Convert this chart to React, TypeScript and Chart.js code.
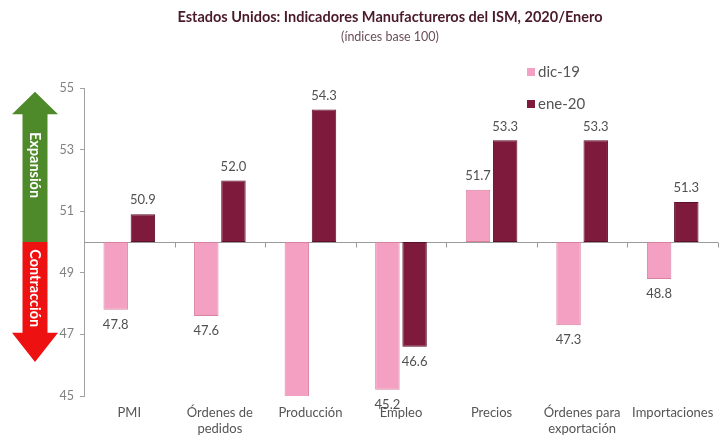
import React, { useEffect, useRef } from "react";
import { Chart, registerables } from "chart.js";

Chart.register(...registerables);

const categories: (string | string[])[] = [
  "PMI",
  ["Órdenes de", "pedidos"],
  "Producción",
  "Empleo",
  "Precios",
  ["Órdenes para", "exportación"],
  "Importaciones",
];
const seriesNames = ["dic-19", "ene-20"];
const dic19 = [47.8, 47.6, 43.2, 45.2, 51.7, 47.3, 48.8];
const ene20 = [50.9, 52.0, 54.3, 46.6, 53.3, 53.3, 51.3];
const baseline = 50;
const yMin = 45;
const yMax = 55;
const yStep = 2;
const titleText = "Estados Unidos: Indicadores Manufactureros del ISM, 2020/Enero";
const subtitleText = "(índices base 100)";
const arrowUpText = "Expansión";
const arrowDownText = "Contracción";

const PINK = "#F4A0C2";
const PINK_BORDER = "#D9829F";
const MAROON = "#7E1A3C";
const MAROON_BORDER = "#5E0F2A";
const FONT = "Lato, 'Open Sans', sans-serif";

export default function App() {
  const ref = useRef<HTMLCanvasElement | null>(null);

  useEffect(() => {
    document.body.style.margin = "0";
    const canvas = ref.current;
    if (!canvas) return;

    const custom = {
      id: "custom",
      beforeDatasetsDraw(chart: any) {
        const { ctx, chartArea, scales } = chart;
        const y = scales.y;
        const x = scales.x;
        const by = Math.round(y.getPixelForValue(baseline)) + 0.5;
        ctx.save();
        ctx.strokeStyle = "#9a9a9a";
        ctx.lineWidth = 1;
        ctx.beginPath();
        ctx.moveTo(chartArea.left, by);
        ctx.lineTo(chartArea.right, by);
        const n = categories.length;
        for (let i = 1; i <= n; i++) {
          const px = Math.round(x.getPixelForValue(i - 0.5)) + 0.5;
          ctx.moveTo(px, by);
          ctx.lineTo(px, by + 5);
        }
        ctx.stroke();
        ctx.restore();
      },
      afterDraw(chart: any) {
        const { ctx, scales } = chart;
        const y = scales.y;
        ctx.save();
        // titles
        ctx.textAlign = "center";
        ctx.textBaseline = "middle";
        ctx.fillStyle = "#4B1A2A";
        ctx.font = `bold 14.5px ${FONT}`;
        ctx.fillText(titleText, 390, 17);
        ctx.fillStyle = "#6a5058";
        ctx.font = `12.5px ${FONT}`;
        ctx.fillText(subtitleText, 390, 37);

        // value labels
        ctx.font = `13px ${FONT}`;
        ctx.fillStyle = "#505050";
        const sets = [dic19, ene20];
        sets.forEach((vals, di) => {
          const meta = chart.getDatasetMeta(di);
          meta.data.forEach((el: any, i: number) => {
            const v = vals[i];
            if (v < yMin || v > yMax) return;
            const py = y.getPixelForValue(v);
            const ly = v >= baseline ? py - 14 : py + 15;
            ctx.fillText(v.toFixed(1), el.x, ly);
          });
        });

        // legend
        const lx = 527;
        const legendY = [72, 104];
        ctx.textAlign = "left";
        ctx.font = `15px ${FONT}`;
        seriesNames.forEach((name, i) => {
          ctx.fillStyle = i === 0 ? PINK : MAROON;
          ctx.fillRect(lx, legendY[i] - 4, 8, 8);
          ctx.fillStyle = "#555555";
          ctx.fillText(name, lx + 11, legendY[i]);
        });

        // arrow
        const cx = 35;
        const shaftHalf = 12.5;
        const headHalf = 23;
        const topTip = y.getPixelForValue(54.88);
        const topBase = y.getPixelForValue(54.15);
        const mid = y.getPixelForValue(baseline);
        const botBase = y.getPixelForValue(47.05);
        const botTip = y.getPixelForValue(46.1);
        ctx.fillStyle = "#4E8A2A";
        ctx.beginPath();
        ctx.moveTo(cx, topTip);
        ctx.lineTo(cx + headHalf, topBase);
        ctx.lineTo(cx + shaftHalf, topBase);
        ctx.lineTo(cx + shaftHalf, mid);
        ctx.lineTo(cx - shaftHalf, mid);
        ctx.lineTo(cx - shaftHalf, topBase);
        ctx.lineTo(cx - headHalf, topBase);
        ctx.closePath();
        ctx.fill();
        ctx.fillStyle = "#EE1111";
        ctx.beginPath();
        ctx.moveTo(cx - shaftHalf, mid);
        ctx.lineTo(cx + shaftHalf, mid);
        ctx.lineTo(cx + shaftHalf, botBase);
        ctx.lineTo(cx + headHalf, botBase);
        ctx.lineTo(cx, botTip);
        ctx.lineTo(cx - headHalf, botBase);
        ctx.lineTo(cx - shaftHalf, botBase);
        ctx.closePath();
        ctx.fill();

        ctx.fillStyle = "#ffffff";
        ctx.font = `bold 14.5px ${FONT}`;
        ctx.textAlign = "center";
        ctx.textBaseline = "middle";
        const drawV = (t: string, cy: number) => {
          ctx.save();
          ctx.translate(cx, cy);
          ctx.rotate(Math.PI / 2);
          ctx.fillText(t, 0, 0);
          ctx.restore();
        };
        drawV(arrowUpText, y.getPixelForValue(52.5));
        drawV(arrowDownText, y.getPixelForValue(48.5));
        ctx.restore();
      },
    };

    const chart = new Chart(canvas, {
      type: "bar",
      data: {
        labels: categories,
        datasets: [
          {
            label: seriesNames[0],
            data: dic19.map((v) => [baseline, v]),
            backgroundColor: PINK,
            borderColor: PINK_BORDER,
            borderWidth: 1,
            borderSkipped: false,
          },
          {
            label: seriesNames[1],
            data: ene20.map((v) => [baseline, v]),
            backgroundColor: MAROON,
            borderColor: MAROON_BORDER,
            borderWidth: 1,
            borderSkipped: false,
          },
        ],
      },
      options: {
        animation: false,
        responsive: false,
        maintainAspectRatio: false,
        layout: { padding: { top: 88, right: 1, left: 0, bottom: 0 } },
        datasets: { bar: { categoryPercentage: 0.6, barPercentage: 0.9 } },
        plugins: {
          legend: { display: false },
          title: { display: false },
          tooltip: { enabled: false },
        },
        scales: {
          x: {
            position: "bottom",
            grid: { display: false },
            border: { display: false },
            ticks: {
              color: "#555555",
              font: { family: FONT, size: 13, lineHeight: 1.2 },
              maxRotation: 0,
              autoSkip: false,
              padding: 1,
            },
            afterFit: (s: any) => {
              s.height = 39;
            },
          },
          y: {
            min: yMin,
            max: yMax,
            ticks: {
              stepSize: yStep,
              color: "#808080",
              font: { family: FONT, size: 12.5 },
              padding: 6,
            },
            grid: {
              drawOnChartArea: false,
              tickLength: 4,
              color: "#a0a0a0",
            },
            border: { display: true, color: "#a0a0a0" },
            afterFit: (s: any) => {
              s.width = 84;
            },
          },
        },
      },
      plugins: [custom],
    });
    return () => chart.destroy();
  }, []);

  return (
    <div style={{ width: 719, height: 435, background: "#ffffff" }}>
      <canvas ref={ref} width={719} height={435} style={{ display: "block" }} />
    </div>
  );
}
